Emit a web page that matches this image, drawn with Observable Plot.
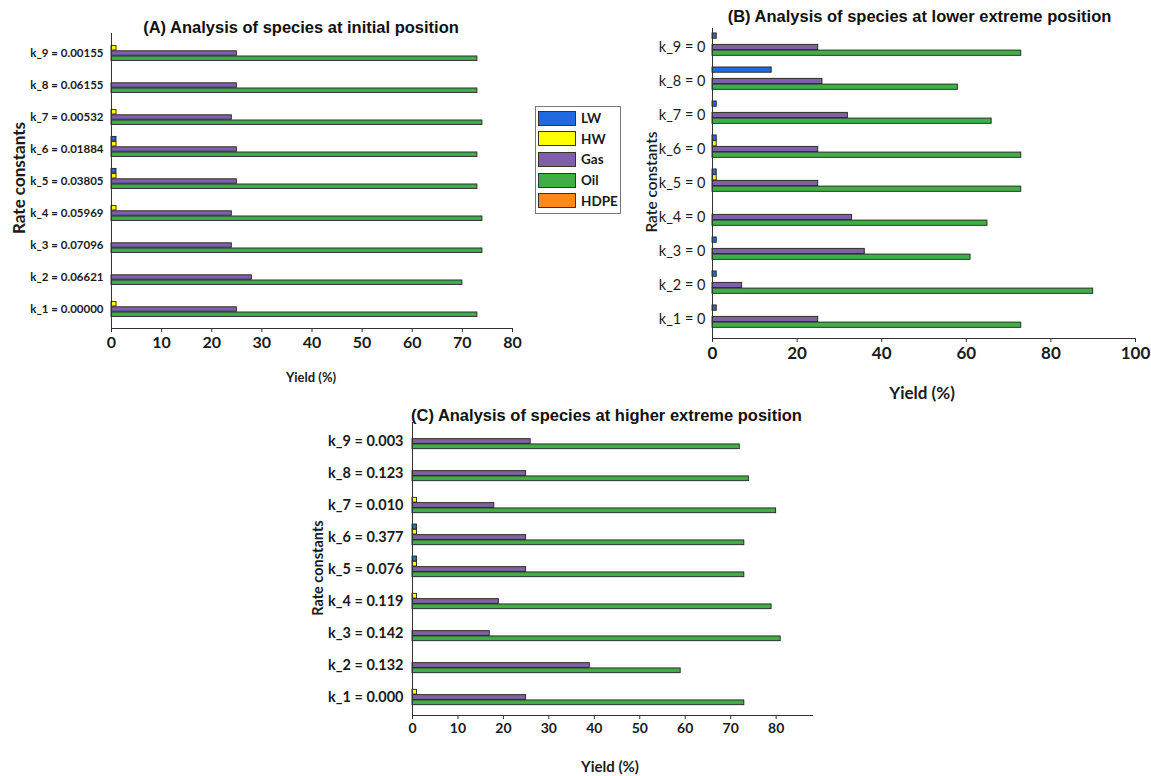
<!DOCTYPE html>
<html>
<head>
<meta charset="utf-8">
<script src="https://cdn.jsdelivr.net/npm/d3@7"></script>
<script src="https://cdn.jsdelivr.net/npm/@observablehq/plot@0.6"></script>
<style>
  body { margin: 0; background: #fff; }
  #root { position: relative; width: 1151px; height: 776px; overflow: hidden; background: #fff; }
  .chart { position: absolute; }
  .chart svg { background: transparent !important; overflow: visible; }
  .t { position: absolute; white-space: nowrap; line-height: 1; color: #111; }
  .ttl { font-family: "Liberation Sans", Arial, sans-serif; font-weight: bold; }
  .lab { font-family: Lato, "Open Sans", sans-serif; font-weight: bold; color: #1a1a1a; }
  .c { transform: translate(-50%, -50%); }
  .l { transform: translate(0, -50%); }
  .v { transform: translate(-50%, -50%) rotate(-90deg); }
  #legend { position: absolute; left: 535px; top: 106px; width: 84px; height: 106px; border: 1px solid #777; background: #fff; }
  .row { position: absolute; left: 2px; height: 16px; display: flex; align-items: center; }
  .sw { width: 38px; height: 15px; border: 1px solid #333; box-sizing: border-box; }
  .row span { margin-left: 5px; font-family: Lato, sans-serif; font-weight: bold; font-size: 13.5px; color: #1a1a1a; }
</style>
</head>
<body>
<div id="root"></div>
<script>
// ---------- data ----------
const series = ["LW", "HW", "Gas", "Oil", "HDPE"];
const seriesColors = ["#1f6ae0", "#ffff00", "#7f5fa9", "#3fae45", "#fb8a1e"];

const labelsA = ["k_1 = 0.00000", "k_2 = 0.06621", "k_3 = 0.07096", "k_4 = 0.05969", "k_5 = 0.03805",
                 "k_6 = 0.01884", "k_7 = 0.00532", "k_8 = 0.06155", "k_9 = 0.00155"];
const lwA   = [0, 0, 0, 0, 1, 1, 0, 0, 0];
const hwA   = [1, 0, 0, 1, 1, 1, 1, 0, 1];
const gasA  = [25, 28, 24, 24, 25, 25, 24, 25, 25];
const oilA  = [73, 70, 74, 74, 73, 73, 74, 73, 73];
const hdpeA = [0, 0, 0, 0, 0, 0, 0, 0, 0];
const ticksA = [0, 10, 20, 30, 40, 50, 60, 70, 80];

const labelsB = ["k_1 = 0", "k_2 = 0", "k_3 = 0", "k_4 = 0", "k_5 = 0",
                 "k_6 = 0", "k_7 = 0", "k_8 = 0", "k_9 = 0"];
const lwB   = [1, 1, 1, 0, 1, 1, 1, 14, 1];
const hwB   = [0, 0, 0, 0, 1, 1, 0, 0, 0];
const gasB  = [25, 7, 36, 33, 25, 25, 32, 26, 25];
const oilB  = [73, 90, 61, 65, 73, 73, 66, 58, 73];
const hdpeB = [0, 0, 0, 0, 0, 0, 0, 0, 0];
const ticksB = [0, 20, 40, 60, 80, 100];

const labelsC = ["k_1 = 0.000", "k_2 = 0.132", "k_3 = 0.142", "k_4 = 0.119", "k_5 = 0.076",
                 "k_6 = 0.377", "k_7 = 0.010", "k_8 = 0.123", "k_9 = 0.003"];
const lwC   = [0, 0, 0, 0, 1, 1, 0, 0, 0];
const hwC   = [1, 0, 0, 1, 1, 1, 1, 0, 0];
const gasC  = [25, 39, 17, 19, 25, 25, 18, 25, 26];
const oilC  = [73, 59, 81, 79, 73, 73, 80, 74, 72];
const hdpeC = [0, 0, 0, 0, 0, 0, 0, 0, 0];
const ticksC = [0, 10, 20, 30, 40, 50, 60, 70, 80];

// ---------- drawing ----------
const root = document.getElementById("root");

function panel(cfg) {
  const {labels, values, xDomain, ticks, W, H, ml, mr, mt, mb, slot,
         yFont, yWeight, xFont, left, top} = cfg;
  const plotH = H - mt - mb;
  const bw = plotH / labels.length;
  const marks = [];
  series.forEach((s, i) => {
    const rows = labels.map((k, j) => ({k, series: s, value: values[i][j]})).filter(d => d.value > 0);
    const insetTop = (bw - 5 * slot) / 2 + i * slot;
    const insetBottom = bw - insetTop - slot;
    marks.push(Plot.barX(rows, {
      x: "value", y: "k", fill: seriesColors[i], stroke: "#222", strokeWidth: 0.9,
      insetTop, insetBottom
    }));
  });
  marks.push(Plot.ruleX([0], {stroke: "#333", strokeWidth: 1}));
  marks.push(Plot.frame({anchor: "bottom", stroke: "#333", strokeWidth: 1}));
  marks.push(Plot.axisX({ticks, tickSize: 4, tickPadding: 4, fontSize: xFont, fontWeight: "bold",
                         label: null, stroke: "#333"}));
  marks.push(Plot.axisY({tickSize: 0, tickPadding: cfg.yPad, fontSize: yFont, fontWeight: yWeight, label: null}));
  const svg = Plot.plot({
    width: W, height: H,
    marginLeft: ml, marginRight: mr, marginTop: mt, marginBottom: mb,
    x: {domain: xDomain},
    y: {domain: labels.slice().reverse(), padding: 0},
    style: {fontFamily: "Lato, 'Open Sans', sans-serif", color: "#1a1a1a", background: "transparent"},
    marks
  });
  const div = document.createElement("div");
  div.className = "chart";
  div.style.left = left + "px";
  div.style.top = top + "px";
  div.appendChild(svg);
  root.appendChild(div);
}

panel({labels: labelsA, values: [lwA, hwA, gasA, oilA, hdpeA], xDomain: [0, 80], ticks: ticksA,
       W: 530, H: 360, ml: 111, mr: 18, mt: 33, mb: 32, slot: 5.2,
       yFont: 11.5, yWeight: "bold", yPad: 8, xFont: 16, left: 0, top: 0});
panel({labels: labelsB, values: [lwB, hwB, gasB, oilB, hdpeB], xDomain: [0, 100], ticks: ticksB,
       W: 511, H: 370, ml: 72, mr: 16, mt: 28, mb: 32, slot: 5.7,
       yFont: 14.5, yWeight: "normal", yPad: 7, xFont: 17, left: 640, top: 0});
panel({labels: labelsC, values: [lwC, hwC, gasC, oilC, hdpeC], xDomain: [0, 88], ticks: ticksC,
       W: 520, H: 340, ml: 112, mr: 8, mt: 22, mb: 25, slot: 5.3,
       yFont: 14.5, yWeight: "bold", yPad: 9, xFont: 14, left: 300, top: 400});

// ---------- texts ----------
function txt(s, cls, x, y, size, extra) {
  const d = document.createElement("div");
  d.className = "t " + cls;
  d.textContent = s;
  d.style.left = x + "px";
  d.style.top = y + "px";
  d.style.fontSize = size + "px";
  if (extra) Object.assign(d.style, extra);
  root.appendChild(d);
}
txt("(A) Analysis of species at initial position", "ttl c", 301, 26.5, 16.5);
txt("(B) Analysis of species at lower extreme position", "ttl c", 919.5, 16, 16.5);
txt("(C) Analysis of species at higher extreme position", "ttl l", 411, 415, 16.5);
txt("Rate constants", "lab v", 18, 178, 17);
txt("Rate constants", "lab v", 652, 182, 15.5, {fontWeight: "600"});
txt("Rate constants", "lab v", 318, 568, 14.5);
txt("Yield (%)", "lab c", 311, 377, 13);
txt("Yield (%)", "lab c", 922, 392, 17);
txt("Yield (%)", "lab c", 610, 766, 15);

// ---------- legend ----------
const legend = document.createElement("div");
legend.id = "legend";
series.forEach((s, i) => {
  const r = document.createElement("div");
  r.className = "row";
  r.style.top = (3 + i * 20.7) + "px";
  const sw = document.createElement("div");
  sw.className = "sw";
  sw.style.background = seriesColors[i];
  const sp = document.createElement("span");
  sp.textContent = s;
  r.appendChild(sw);
  r.appendChild(sp);
  legend.appendChild(r);
});
root.appendChild(legend);
</script>
</body>
</html>
